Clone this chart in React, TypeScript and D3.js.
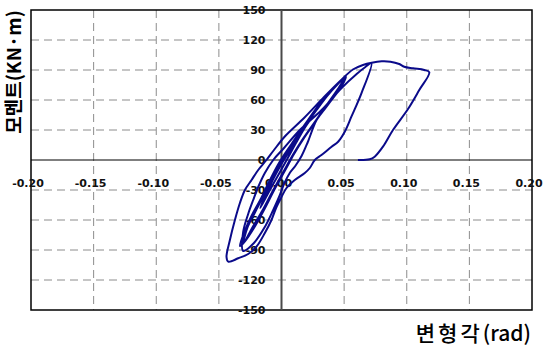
import * as d3 from 'd3';

// Axis ticks
const xTicks = [-0.2, -0.15, -0.1, -0.05, 0, 0.05, 0.1, 0.15, 0.2];
const yTicks = [-150, -120, -90, -60, -30, 0, 30, 60, 90, 120, 150];

// Hysteresis loops: [drift angle (rad), moment (kN·m)]
const smallCycles: [number, number][] = [
  [0, 0], [0.004, 8], [0.01, 18], [0.006, 10], [0.001, 0], [-0.004, -12], [-0.009, -24],
  [-0.005, -14], [0, -2], [0.008, 14], [0.016, 29], [0.024, 42], [0.019, 33], [0.012, 18],
  [0.005, 2], [-0.003, -16], [-0.011, -34], [-0.017, -48], [-0.013, -36], [-0.007, -20], [0, -4],
];

const cycle1: [number, number][] = [
  [0.006, 8], [0.016, 28], [0.028, 50], [0.039, 68], [0.0505, 82.5],
  [0.045, 71], [0.036, 55], [0.026, 37], [0.017, 21], [0.009, 5], [0.001, -13], [-0.007, -31],
  [-0.015, -50], [-0.023, -67], [-0.0306, -84],
  [-0.027, -67], [-0.021, -52], [-0.014, -35], [-0.007, -17], [0.001, 1], [0.011, 20],
  [0.023, 42], [0.035, 62], [0.045, 76], [0.051, 83],
];

const cycle2: [number, number][] = [
  [0.046, 72], [0.038, 58], [0.028, 40], [0.018, 22], [0.01, 6], [0.003, -10], [-0.005, -28],
  [-0.014, -50], [-0.022, -68], [-0.029, -81], [-0.0332, -86],
  [-0.029, -70], [-0.024, -56], [-0.017, -40], [-0.01, -22], [-0.002, -3], [0.008, 16],
  [0.02, 38], [0.033, 60], [0.044, 75], [0.0515, 83],
];

const cycle3: [number, number][] = [
  [0.046, 70], [0.04, 60], [0.034, 50], [0.028, 40], [0.021, 18], [0.016, 4], [0.011, -6],
  [0.0066, -13], [0.002, -24], [-0.0013, -35], [-0.0066, -50], [-0.0133, -67], [-0.022, -83],
  [-0.0306, -91],
  [-0.0306, -72], [-0.0266, -54], [-0.0226, -40], [-0.0186, -27], [-0.0133, -13], [-0.0066, 0],
  [0.002, 12], [0.0146, 30], [0.032, 50], [0.048, 72], [0.06, 86], [0.067, 93], [0.0718, 96.7],
];

const cycle4: [number, number][] = [
  [0.0638, 66.7], [0.0558, 43.3], [0.0505, 28.3], [0.0452, 18.3], [0.04, 13.3], [0.0319, 5],
  [0.0266, 0], [0.0226, -8], [0.0186, -13], [0.0106, -20], [0.004, -28], [0, -37], [-0.004, -47],
  [-0.008, -60], [-0.0133, -73], [-0.02, -86.7], [-0.0266, -94], [-0.0346, -98.3],
  [-0.0425, -101.7], [-0.0439, -97],
  [-0.0412, -80], [-0.0372, -60], [-0.0332, -43], [-0.0292, -30], [-0.0239, -20],
  [-0.0186, -10], [-0.012, 0], [-0.006, 10], [0.003, 24], [0.018, 42], [0.034, 63],
  [0.046, 78], [0.057, 90.5], [0.065, 95], [0.072, 97.3], [0.08, 98.7], [0.087, 98.3],
  [0.094, 96], [0.098, 93.3], [0.105, 91.7], [0.114, 90], [0.118, 87.7],
];

const finalUnload: [number, number][] = [
  [0.11, 70], [0.101, 51], [0.089, 30], [0.081, 13.3], [0.0744, 3.3], [0.0704, 0.7], [0.061, 0],
];

const WIDTH = 544;
const HEIGHT = 348;

export default function App() {
  const x = d3.scaleLinear().domain([-0.2, 0.2]).range([31, 532]);
  const y = d3.scaleLinear().domain([-150, 150]).range([310, 10]);

  const points = [...smallCycles, ...cycle1, ...cycle2, ...cycle3, ...cycle4, ...finalUnload];

  const line = d3.line<[number, number]>()
    .x(d => x(d[0]))
    .y(d => y(d[1]))
    .curve(d3.curveCatmullRom.alpha(0.5));

  const tickFont = 'DejaVu Sans, sans-serif';

  return (
    <svg
      width={WIDTH}
      height={HEIGHT}
      style={{ position: 'absolute', left: 0, top: 0, background: '#fff' }}
    >
      {/* grid */}
      <g stroke="#8c8c8c" strokeWidth={1} strokeDasharray="8,5">
        {xTicks.filter(t => t !== 0 && Math.abs(t) !== 0.2).map(t => (
          <line key={'gx' + t} x1={x(t)} x2={x(t)} y1={y(150)} y2={y(-150)} />
        ))}
        {yTicks.filter(t => t !== 0 && Math.abs(t) !== 150).map(t => (
          <line key={'gy' + t} x1={x(-0.2)} x2={x(0.2)} y1={y(t)} y2={y(t)} />
        ))}
      </g>

      {/* frame */}
      <rect
        x={x(-0.2)}
        y={y(150)}
        width={x(0.2) - x(-0.2)}
        height={y(-150) - y(150)}
        fill="none"
        stroke="#000"
        strokeWidth={1.5}
      />

      {/* zero axes */}
      <line x1={x(-0.2)} x2={x(0.2)} y1={y(0)} y2={y(0)} stroke="#000" strokeWidth={1.2} />
      <line x1={x(0)} x2={x(0)} y1={y(150)} y2={y(-150)} stroke="#4a4a4a" strokeWidth={2} />

      {/* y tick labels */}
      <g fontFamily={tickFont} fontWeight="bold" fontSize={11} fill="#111" textAnchor="end">
        {yTicks.map(t => (
          <text key={'ty' + t} x={x(0) - 16} y={y(t)} dy="0.36em">{t}</text>
        ))}
      </g>

      {/* x tick labels */}
      <g fontFamily={tickFont} fontWeight="bold" fontSize={11} fill="#111" textAnchor="middle">
        {xTicks.map(t => (
          <text key={'tx' + t} x={x(t) - 3} y={187}>{t.toFixed(2)}</text>
        ))}
      </g>

      {/* hysteresis curve */}
      <path d={line(points) ?? ''} fill="none" stroke="#0a0a8a" strokeWidth={2} strokeLinejoin="round" />

      {/* axis titles */}
      <text
        transform={`translate(21, 72) rotate(-90)`}
        textAnchor="middle"
        fontFamily="Noto Sans CJK KR, sans-serif"
        fontWeight="bold"
        fontSize={19}
        fill="#000"
      >
        모멘트(KN·m)
      </text>
      <text
        x={531}
        y={341}
        textAnchor="end"
        fontFamily="Noto Sans CJK KR, sans-serif"
        fontWeight={500}
        fontSize={21}
        fill="#000"
      >
        <tspan letterSpacing={3}>변형각</tspan>
        <tspan>(rad)</tspan>
      </text>
    </svg>
  );
}
